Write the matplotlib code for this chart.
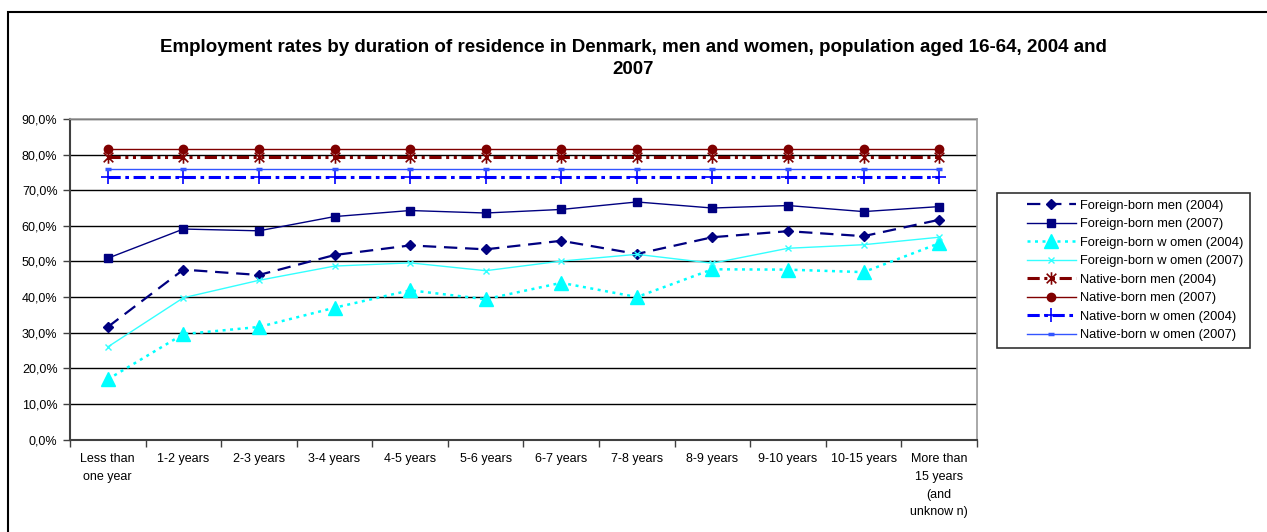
import matplotlib.pyplot as plt
import numpy as np
from matplotlib.path import Path
from matplotlib.patches import Rectangle
from matplotlib.ticker import FuncFormatter, FixedLocator
from matplotlib.legend_handler import HandlerLine2D

plt.rcParams['font.family'] = ['Liberation Sans', 'DejaVu Sans']

categories = ['Less than\none year', '1-2 years', '2-3 years', '3-4 years', '4-5 years',
              '5-6 years', '6-7 years', '7-8 years', '8-9 years', '9-10 years',
              '10-15 years', 'More than\n15 years\n(and\nunknow n)']

foreign_men_2004 = [31.6, 47.7, 46.2, 51.8, 54.5, 53.4, 55.8, 52.1, 56.8, 58.5, 57.1, 61.7]
foreign_men_2007 = [50.9, 59.1, 58.6, 62.6, 64.3, 63.6, 64.6, 66.7, 65.0, 65.7, 64.0, 65.4]
foreign_women_2004 = [16.9, 29.6, 31.6, 37.0, 41.9, 39.4, 44.0, 40.0, 47.8, 47.7, 47.0, 55.1]
foreign_women_2007 = [26.0, 39.8, 44.7, 48.7, 49.6, 47.4, 50.1, 52.0, 49.5, 53.7, 54.7, 56.8]
native_men_2004 = [79.2] * 12
native_men_2007 = [81.5] * 12
native_women_2004 = [73.7] * 12
native_women_2007 = [75.9] * 12

# asterisk-like marker: x with a vertical bar
star = Path([(-1, -1), (1, 1), (-1, 1), (1, -1), (0, -1.3), (0, 1.3)],
            [Path.MOVETO, Path.LINETO, Path.MOVETO, Path.LINETO, Path.MOVETO, Path.LINETO])

fig = plt.figure(figsize=(12.67, 5.32), dpi=100)
ax = fig.add_axes([70 / 1267, 1 - 439.5 / 532, 907 / 1267, 320.5 / 532])

x = np.arange(len(categories))
to_frac = lambda v: np.array(v) / 100.0

ax.plot(x, to_frac(foreign_men_2004), color='#000080', lw=1.6, dashes=(6, 3.5),
        marker='D', ms=5, label='Foreign-born men (2004)')
ax.plot(x, to_frac(foreign_men_2007), color='#000080', lw=1,
        marker='s', ms=6, label='Foreign-born men (2007)')
ax.plot(x, to_frac(foreign_women_2004), color='#00FFFF', lw=1.8, dashes=(1.2, 1.8),
        marker='^', ms=10, label='Foreign-born w omen (2004)')
ax.plot(x, to_frac(foreign_women_2007), color='#33FFFF', lw=1,
        marker='x', ms=5, mew=1, label='Foreign-born w omen (2007)')
ax.plot(x, to_frac(native_men_2004), color='#800000', lw=2.2, dashes=(4, 1.5, 1, 1.5, 1, 1.5),
        marker=star, ms=9, mew=1.2, mfc='none', mec='#800000', label='Native-born men (2004)')
ax.plot(x, to_frac(native_men_2007), color='#800000', lw=1,
        marker='o', ms=6, label='Native-born men (2007)')
ax.plot(x, to_frac(native_women_2004), color='#0000FF', lw=2.2, dashes=(4, 1.5, 1.2, 1.5),
        marker='+', ms=10, mew=1.2, label='Native-born w omen (2004)')
ax.plot(x, to_frac(native_women_2007), color='#3355FF', lw=1,
        marker='_', ms=5, mew=2.5, label='Native-born w omen (2007)')

ax.set_xlim(-0.5, len(categories) - 0.5)
ax.set_ylim(0, 0.9)
ax.set_yticks(np.arange(0, 0.91, 0.1))
ax.yaxis.set_major_formatter(FuncFormatter(lambda v, p: f'{v * 100:.1f}%'.replace('.', ',')))
ax.grid(axis='y', color='black', lw=1)
ax.set_axisbelow(True)

ax.set_xticks(x)
ax.set_xticklabels(categories, fontsize=9, linespacing=1.62, va='top')
ax.xaxis.set_minor_locator(FixedLocator(np.arange(-0.5, len(categories), 1)))
ax.tick_params(axis='x', which='major', length=0, pad=10)
ax.tick_params(axis='x', which='minor', length=5, width=1, color='#404040', direction='out')
ax.tick_params(axis='y', length=5, width=1, color='#404040', direction='out', labelsize=9, pad=4)

for s in ['top', 'right']:
    ax.spines[s].set_color('#999999')
    ax.spines[s].set_linewidth(1.2)
for s in ['left', 'bottom']:
    ax.spines[s].set_color('#404040')
    ax.spines[s].set_linewidth(1.5)

leg = fig.legend(loc='center left', bbox_to_anchor=(997 / 1267, 1 - 270.5 / 532),
                 fontsize=9.3, frameon=True, fancybox=False, edgecolor='black',
                 handlelength=5.6, handletextpad=0.3, labelspacing=0.5,
                 borderpad=0.5, borderaxespad=0,
                 handler_map={plt.Line2D: HandlerLine2D(xpad=1.8)})
leg.get_frame().set_linewidth(1.2)

fig.text(0.5, 1 - 39 / 532,
         'Employment rates by duration of residence in Denmark, men and women, population aged 16-64, 2004 and\n2007',
         ha='center', va='top', fontsize=13.5, fontweight='bold', linespacing=1.35)

fig.patches.append(Rectangle((8 / 1267, -0.1), 1.2, 1 - 12 / 532 + 0.1,
                             transform=fig.transFigure, fill=False, edgecolor='black', lw=1.5))

fig.savefig('out.png', dpi=100)
